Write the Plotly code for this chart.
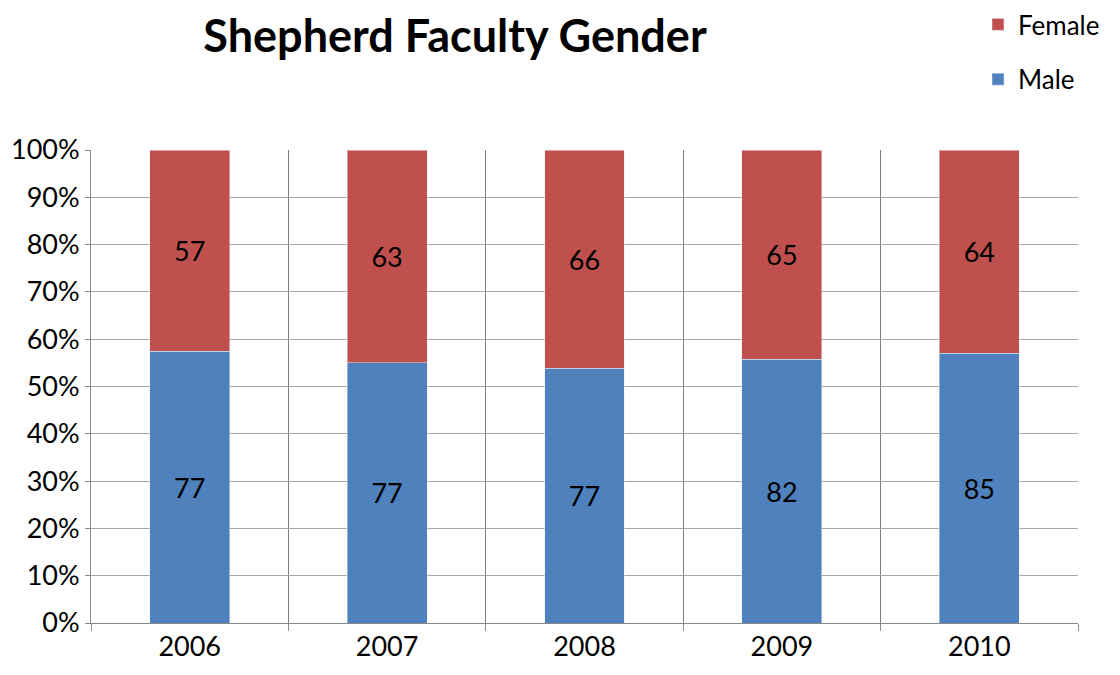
import plotly.graph_objects as go

years = ["2006", "2007", "2008", "2009", "2010"]
male = [77, 77, 77, 82, 85]
female = [57, 63, 66, 65, 64]

MALE_COLOR = "#4F81BD"
FEMALE_COLOR = "#C0504D"
FONT = "Lato, 'Open Sans', sans-serif"

W, H = 1112, 667  # page has 8px body margin
PLOT_LEFT, PLOT_RIGHT = 83, 1070
PLOT_TOP, PLOT_BOTTOM = 142, 615

xpos = list(range(len(years)))

fig = go.Figure()
fig.add_trace(go.Bar(
    x=xpos, y=male, name="Male", marker_color=MALE_COLOR,
    text=[str(v) for v in male], textposition="inside", insidetextanchor="middle",
    textfont=dict(size=27, color="black", family=FONT), legendgroup="m",
    legendrank=2, width=0.405,
))
fig.add_trace(go.Bar(
    x=xpos, y=female, name="Female", marker_color=FEMALE_COLOR,
    text=[str(v) for v in female], textposition="inside", insidetextanchor="middle",
    textfont=dict(size=27, color="black", family=FONT), legendgroup="f",
    legendrank=1, width=0.405,
))

ph = PLOT_BOTTOM - PLOT_TOP
pw = PLOT_RIGHT - PLOT_LEFT
fig.update_layout(
    barmode="stack", barnorm="percent",
    width=W, height=H,
    paper_bgcolor="white", plot_bgcolor="white",
    margin=dict(l=PLOT_LEFT, r=W - PLOT_RIGHT, t=PLOT_TOP, b=H - PLOT_BOTTOM, autoexpand=False),
    font=dict(family=FONT, color="black"),
    title=dict(text="<b>Shepherd Faculty Gender</b>", x=447/W, xanchor="center",
               xref="container", y=1-28/H, yanchor="middle", yref="container",
               font=dict(size=45, family=FONT, color="black")),
    legend=dict(x=(970-PLOT_LEFT)/pw, xref="paper", y=(PLOT_BOTTOM + 7)/ph, yref="paper",
                xanchor="left", yanchor="top", traceorder="grouped",
                tracegroupgap=18, font=dict(size=26, family=FONT),
                itemwidth=30, bgcolor="rgba(0,0,0,0)"),
    uniformtext=dict(mode=False),
)

fig.update_xaxes(
    range=[-0.5, len(years) - 0.5],
    tickmode="array", tickvals=xpos, ticktext=years,
    showgrid=False, ticks="", tickfont=dict(size=27, family=FONT),
    showline=True, linecolor="#888888", linewidth=1,
    minor=dict(tickmode="array", tickvals=[i - 0.5 for i in range(len(years) + 1)],
               showgrid=True, gridcolor="#7F7F7F", gridwidth=1,
               ticks="outside", ticklen=7, tickcolor="#888888"),
    zeroline=False,
)
fig.update_yaxes(
    range=[0, 100], tickvals=list(range(0, 101, 10)),
    ticktext=[f"{v}%" for v in range(0, 101, 10)],
    showgrid=True, gridcolor="#A6A6A6", gridwidth=1,
    ticks="outside", ticklen=5, tickcolor="#888888",
    showline=True, linecolor="#888888", linewidth=1,
    tickfont=dict(size=27, family=FONT), zeroline=False,
)

fig.write_html("out.html")
